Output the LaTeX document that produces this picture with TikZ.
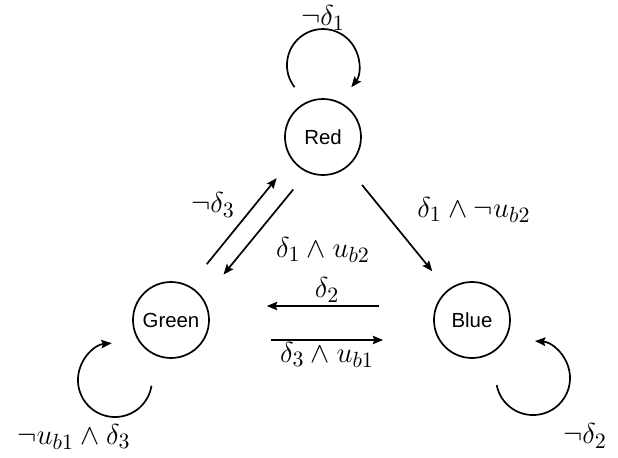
\documentclass[tikz,border=0pt]{standalone}
\usepackage{fontspec}
\newfontfamily\statefont{Liberation Sans}
\usetikzlibrary{arrows.meta}
\begin{document}
\begin{tikzpicture}[x=0.5pt,y=0.5pt,
  state/.style={circle,draw,line width=0.85pt,minimum size=38pt,inner sep=0pt,font=\statefont\fontsize{10.2}{12}\selectfont},
  arr/.style={line width=0.85pt,-{Stealth[length=5.2pt,width=4.2pt,inset=0.8pt]}},
  lbl/.style={font=\fontsize{15}{17}\selectfont, inner sep=0pt}]
\useasboundingbox (0,0) rectangle (618,457);
\node[state] (red) at (323,320) {Red};
\node[state] (green) at (171,137) {Green};
\node[state] (blue) at (472,137) {Blue};
% self loops
\coordinate (rl) at (294.6,369.8);
\draw[arr] (rl) arc[start angle=218,end angle=-38,radius=18pt];
\coordinate (gl) at (151.5,71.2);
\draw[arr] (gl) arc[start angle=-9,end angle=-265,radius=18.5pt];
\coordinate (bl) at (496.7,71.9);
\draw[arr] (bl) arc[start angle=191,end angle=447,radius=18.5pt];
% edges
\draw[arr,shorten <=13.9pt,shorten >=11.8pt] (green.62) -- (red.216);
\draw[arr,shorten <=11pt,shorten >=15.7pt] (red.246) -- (green.33);
\draw[arr,shorten <=11.5pt,shorten >=12pt] (red) -- (blue);
\draw[arr,shorten <=27pt,shorten >=28.5pt] ([yshift=7pt]blue.west) -- ([yshift=7pt]green.east);
\draw[arr,shorten <=30.5pt,shorten >=25pt] ([yshift=-10pt]green.east) -- ([yshift=-10pt]blue.west);
% labels
\node[lbl] (l1) at (323,439) {$\neg\delta_1$};
\node[lbl] (l2) at (74,20) {$\neg u_{b1}\wedge\delta_3$};
\node[lbl] (l3) at (585,21) {$\neg\delta_2$};
\node[lbl] (l4) at (213,252) {$\neg\delta_3$};
\node[lbl] (l5) at (323,207) {$\delta_1\wedge u_{b2}$};
\node[lbl] (l6) at (474,247) {$\delta_1\wedge\neg u_{b2}$};
\node[lbl] (l7) at (327,167) {$\delta_2$};
\node[lbl] (l8) at (327,102) {$\delta_3\wedge u_{b1}$};
\end{tikzpicture}
\end{document}
